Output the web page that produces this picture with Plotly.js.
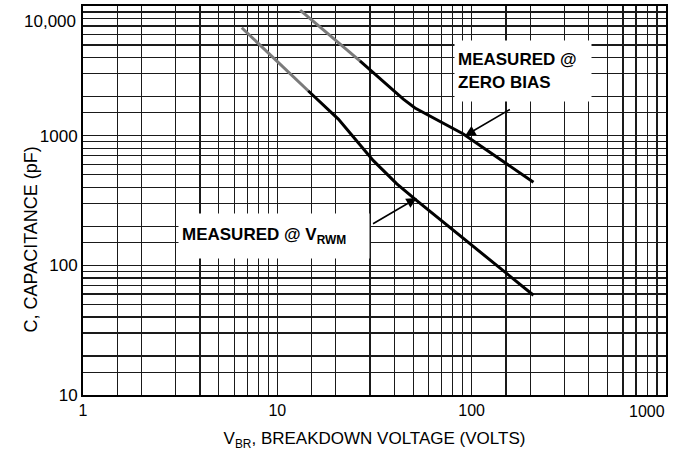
<!DOCTYPE html>
<html>
<head>
<meta charset="utf-8">
<script src="https://cdn.plot.ly/plotly-3.0.1.min.js"></script>
<style>
  body { margin: 0; background: #fff; }
  #chart { width: 680px; height: 464px; }
</style>
</head>
<body>
<div id="chart"></div>
<script>
// curve (volts, pF); first segment is the faded part
var zeroBiasV = [13.1, 26.6, 44.5, 51.1, 90.6, 208];
var zeroBiasC = [9300, 3780, 1915, 1634, 1031, 437];
var vrwmV = [6.56, 14.4, 20.6, 31.2, 41.2, 52.2, 208];
var vrwmC = [6800, 2220, 1343, 642, 425, 316, 58.8];
var fadedPts = 2;

// labelled ticks + the 1.5, 2 ... 9 grid in every decade
var xTicks = [1, 10, 100, 1000];
var xTickText = ['1', '10', '100', '1000'];
var yTicks = [10, 100, 1000, 10000];
var yTickText = ['10', '100', '1000', '10,000'];
var steps = [1.5, 2, 3, 4, 5, 6, 7, 8, 9];

// callouts: box centre, arrow head, arrow tail
var zeroBiasText = '<b>MEASURED @<br>ZERO BIAS</b>';
var zeroBiasBox = [184, 3162];
var zeroBiasHead = [92.5, 1000];
var zeroBiasTail = [163, 1642];
var vrwmText = '<b>MEASURED @ V<sub>RWM</sub></b>';
var vrwmBox = [9.6, 169];
var vrwmHead = [52.2, 330];
var vrwmTail = [30.0, 203];

function minorVals(majors) {
  var vals = [];
  majors.slice(0, -1).forEach(function(d) {
    steps.forEach(function(s) { vals.push(d * s); });
  });
  return vals;
}

var lg = Math.log10;
var fontMain = 'Liberation Sans, Arial, sans-serif';

function curve(xs, ys) {
  return [
    {x: xs.slice(0, fadedPts), y: ys.slice(0, fadedPts), mode: 'lines',
     line: {color: '#7a7a7a', width: 3}, hoverinfo: 'skip'},
    {x: xs.slice(fadedPts - 1), y: ys.slice(fadedPts - 1), mode: 'lines',
     line: {color: '#000', width: 3}, hoverinfo: 'skip'}
  ];
}
var data = curve(zeroBiasV, zeroBiasC).concat(curve(vrwmV, vrwmC));

function box(text, pos, w, h) {
  return {
    text: text, x: lg(pos[0]), y: lg(pos[1]), xref: 'x', yref: 'y',
    showarrow: false, align: 'left', width: w, height: h,
    bgcolor: '#fff', borderpad: 3,
    font: {family: fontMain, size: 17, color: '#000'}
  };
}
function arrow(head, tail) {
  return {
    text: ' ', x: lg(head[0]), y: lg(head[1]), ax: lg(tail[0]), ay: lg(tail[1]),
    xref: 'x', yref: 'y', axref: 'x', ayref: 'y',
    showarrow: true, arrowhead: 2, arrowsize: 1.3, arrowwidth: 1.6,
    arrowcolor: '#000', standoff: 0
  };
}

// the labels at the far ends sit inside the frame like on the datasheet
var nx = xTicks.length - 1, ny = yTicks.length - 1;
var xEndLabel = {
  text: xTickText[nx], x: lg(xTicks[nx]), xref: 'x', y: 0, yref: 'paper',
  xanchor: 'right', yanchor: 'top', xshift: 1, yshift: -6, showarrow: false,
  font: {family: fontMain, size: 16, color: '#000'}
};
var yEndLabel = {
  text: yTickText[ny], y: lg(yTicks[ny]), yref: 'y', x: 0, xref: 'paper',
  xanchor: 'right', yanchor: 'middle', xshift: -5, yshift: -15, showarrow: false,
  font: {family: fontMain, size: 17, color: '#000'}
};

var gridStyle = {showgrid: true, gridcolor: '#1a1a1a', gridwidth: 1.3};
var axisCommon = Object.assign({
  type: 'log', showline: true, mirror: true, linecolor: '#000', linewidth: 2,
  zeroline: false, ticks: '', tickmode: 'array',
  tickfont: {family: fontMain, size: 16, color: '#000'}
}, gridStyle);

var layout = {
  width: 680, height: 464,
  margin: {l: 83, r: 14, t: 6, b: 69},
  paper_bgcolor: '#fff', plot_bgcolor: '#fff',
  showlegend: false,
  xaxis: Object.assign({}, axisCommon, {
    range: [0, 3], tickvals: xTicks.slice(0, nx), ticktext: xTickText.slice(0, nx),
    minor: Object.assign({tickmode: 'array', tickvals: minorVals(xTicks), ticks: ''}, gridStyle),
    title: {text: 'V<sub>BR</sub>, BREAKDOWN VOLTAGE (VOLTS)',
            font: {family: fontMain, size: 17, color: '#000'}, standoff: 14}
  }),
  yaxis: Object.assign({}, axisCommon, {
    range: [1, 4], tickvals: yTicks.slice(0, ny), ticktext: yTickText.slice(0, ny),
    minor: Object.assign({tickmode: 'array', tickvals: minorVals(yTicks), ticks: ''}, gridStyle),
    tickfont: {family: fontMain, size: 17, color: '#000'}
  }),
  annotations: [
    box(zeroBiasText, zeroBiasBox, 130, 54),
    box(vrwmText, vrwmBox, 184, 38),
    arrow(zeroBiasHead, zeroBiasTail),
    arrow(vrwmHead, vrwmTail),
    xEndLabel,
    yEndLabel,
    {text: 'C, CAPACITANCE (pF)', textangle: -90, xref: 'paper', yref: 'paper',
     x: -0.089, y: 0.40, xanchor: 'center', yanchor: 'middle', showarrow: false,
     font: {family: fontMain, size: 18, color: '#000'}}
  ]
};

Plotly.newPlot('chart', data, layout, {staticPlot: true});
</script>
</body>
</html>
